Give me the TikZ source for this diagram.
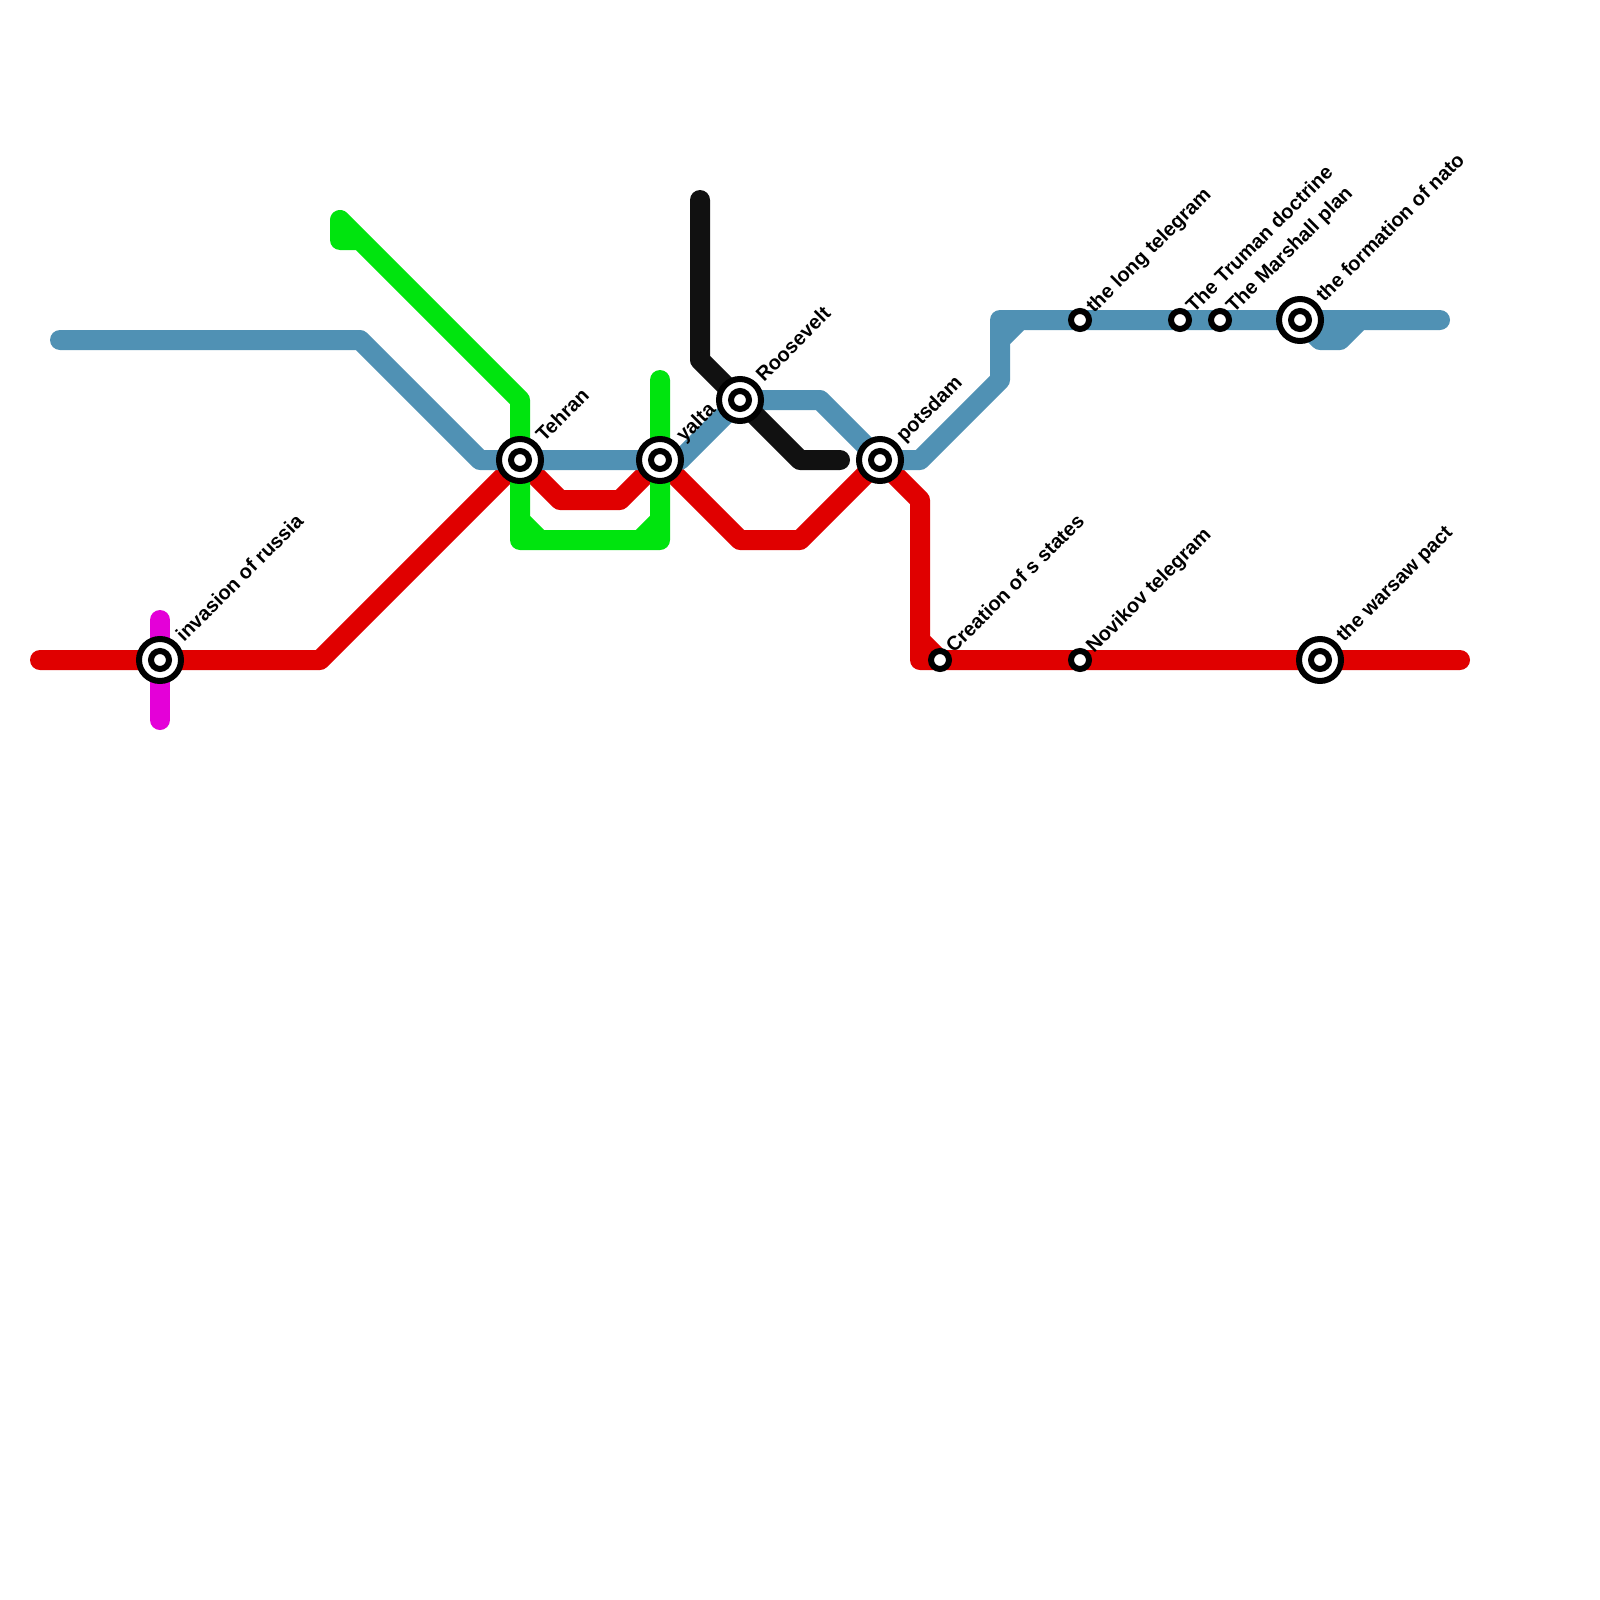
\documentclass[tikz,border=0pt]{standalone}
\usepackage{fontspec}
\setmainfont{Liberation Sans}
\definecolor{lnred}{RGB}{224,0,0}
\definecolor{lngreen}{RGB}{0,228,14}
\definecolor{lnblue}{RGB}{80,145,180}
\definecolor{lnblack}{RGB}{17,17,17}
\definecolor{lnmag}{RGB}{228,0,216}
\tikzset{
  x=1bp,y=-1bp,
  metro/.style={line width=20bp,line cap=round,line join=round},
  ring/.style={circle,draw=black,fill=white,inner sep=0pt,minimum size=#1},
  lbl/.style={rotate=45,anchor=base west,inner sep=0pt,font=\fontsize{20bp}{24bp}\selectfont\bfseries},
}
\begin{document}
\begin{tikzpicture}
\useasboundingbox (0,0) rectangle (1600,1600);
\fill[white] (0,0) rectangle (1600,1600);
\coordinate (invasion) at (160,660);
\coordinate (tehran) at (520,460);
\coordinate (yalta) at (660,460);
\coordinate (roosevelt) at (740,400);
\coordinate (potsdam) at (880,460);
\coordinate (creation) at (940,660);
\coordinate (novikov) at (1080,660);
\coordinate (warsaw) at (1320,660);
\coordinate (longt) at (1080,320);
\coordinate (truman) at (1180,320);
\coordinate (marshall) at (1220,320);
\coordinate (nato) at (1300,320);
% lines
\draw[metro,lnmag] (160,620) -- (invasion) -- (160,720);
\draw[metro,lnred] (40,660) -- (invasion) -- (320,660) -- (tehran) -- (560,500) -- (620,500) -- (yalta) -- (740,540) -- (800,540) -- (potsdam) -- (920,500) -- (920,660) -- (920,640) -- (creation) -- (920,660) -- (creation) -- (novikov) -- (warsaw) -- (1460,660);
\draw[metro,lngreen] (360,240) -- (340,240) -- (340,220) -- (520,400) -- (tehran) -- (520,540) -- (520,520) -- (540,540) -- (520,540) -- (660,540) -- (640,540) -- (660,520) -- (660,540) -- (yalta) -- (660,380);
\draw[metro,lnblue] (60,340) -- (360,340) -- (480,460) -- (tehran) -- (yalta) -- (680,460) -- (roosevelt) -- (820,400) -- (potsdam) -- (920,460) -- (1000,380) -- (1000,320) -- (1000,340) -- (1020,320) -- (1000,320) -- (longt) -- (truman) -- (marshall) -- (nato) -- (1320,340) -- (1340,340) -- (1360,320) -- (nato) -- (1440,320);
\draw[metro,lnblack] (700,200) -- (700,360) -- (roosevelt) -- (800,460) -- (840,460);
% stations
\foreach \n in {invasion,tehran,yalta,roosevelt,potsdam,warsaw,nato}{
  \node[ring=42bp,line width=6bp] (\n-o) at (\n) {};
  \node[ring=18bp,line width=6bp] (\n-i) at (\n) {};
}
\foreach \n in {creation,novikov,longt,truman,marshall}{
  \node[ring=18bp,line width=6bp] (\n-i) at (\n) {};
}
% labels
\node[lbl] (l1) at ([shift={(24,-17)}]invasion) {invasion of russia};
\node[lbl] (l2) at ([shift={(24,-17)}]tehran) {Tehran};
\node[lbl] (l3) at ([shift={(24,-17)}]yalta) {yalta};
\node[lbl] (l4) at ([shift={(24,-17)}]roosevelt) {Roosevelt};
\node[lbl] (l5) at ([shift={(24,-17)}]potsdam) {potsdam};
\node[lbl] (l6) at ([shift={(14,-6)}]creation) {Creation of s states};
\node[lbl] (l7) at ([shift={(14,-6)}]novikov) {Novikov telegram};
\node[lbl] (l8) at ([shift={(24,-17)}]warsaw) {the warsaw pact};
\node[lbl] (l9) at ([shift={(14,-6)}]longt) {the long telegram};
\node[lbl] (l10) at ([shift={(14,-6)}]truman) {The Truman doctrine};
\node[lbl] (l11) at ([shift={(14,-6)}]marshall) {The Marshall plan};
\node[lbl] (l12) at ([shift={(24,-17)}]nato) {the formation of nato};
\end{tikzpicture}
\end{document}
